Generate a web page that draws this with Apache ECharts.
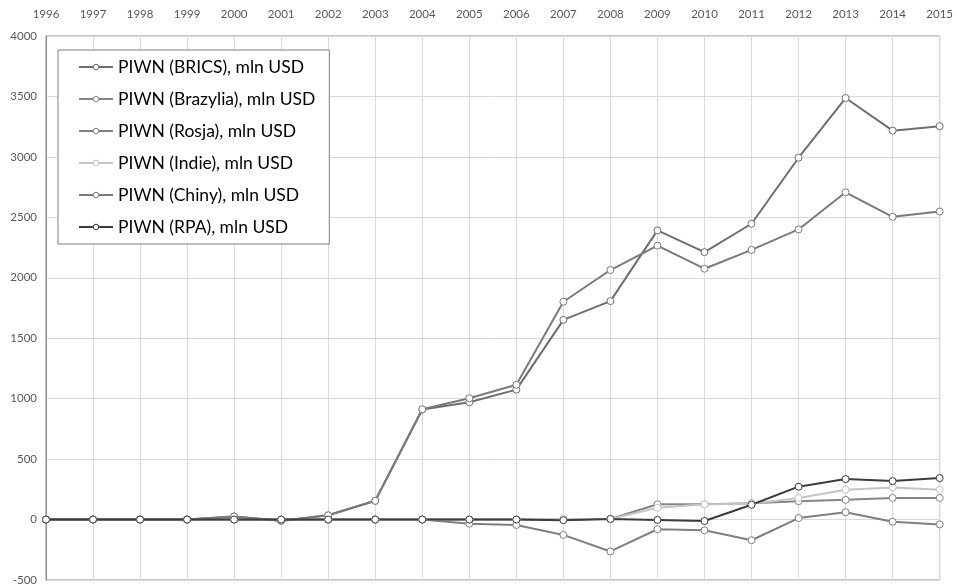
<!DOCTYPE html>
<html>
<head>
<meta charset="utf-8">
<title>PIWN BRICS</title>
<script src="https://cdn.jsdelivr.net/npm/echarts@6/dist/echarts.min.js"></script>
<style>
  html, body { margin: 0; padding: 0; background: #fff; }
  #chart { width: 956px; height: 586px; }
</style>
</head>
<body>
<div id="chart"></div>
<script>
// lata na osi X
const years = ['1996', '1997', '1998', '1999', '2000', '2001', '2002', '2003', '2004', '2005',
  '2006', '2007', '2008', '2009', '2010', '2011', '2012', '2013', '2014', '2015']

// wartości, mln USD
const brics = [0, 0, 0, 0, 25, -10, 35, 155, 910, 970, 1075, 1652, 1807, 2392, 2212, 2447, 2993, 3487, 3217, 3254]
const brazylia = [0, 0, 0, 0, 0, 0, 0, 0, 0, 0, 0, 0, 5, 126, 126, 135, 152, 163, 179, 179]
const rosja = [0, 0, 0, 0, 0, -5, 0, 0, 0, -35, -45, -127, -264, -80, -89, -171, 12, 61, -18, -40]
const indie = [0, 0, 0, 0, 0, 0, 0, 0, 0, 0, 0, 5, 5, 98, 126, 130, 179, 247, 266, 247]
const chiny = [0, 0, 0, 0, 25, -10, 35, 155, 912, 1004, 1115, 1802, 2064, 2266, 2075, 2231, 2400, 2707, 2504, 2548]
const rpa = [0, 0, 0, 0, 0, 0, 0, 0, 0, 0, 0, -5, 5, -3, -12, 122, 272, 335, 318, 343]

const seriesList = [
  { name: 'PIWN (BRICS), mln USD', data: brics, color: '#6e6e6e' },
  { name: 'PIWN (Brazylia), mln USD', data: brazylia, color: '#858585' },
  { name: 'PIWN (Rosja), mln USD', data: rosja, color: '#7f7f7f' },
  { name: 'PIWN (Indie), mln USD', data: indie, color: '#c4c4c4' },
  { name: 'PIWN (Chiny), mln USD', data: chiny, color: '#7a7a7a' },
  { name: 'PIWN (RPA), mln USD', data: rpa, color: '#3c3c3c' },
]

const font = 'Lato, "Open Sans", sans-serif'

let myChart = echarts.init(document.getElementById('chart'))
myChart.setOption({
  animation: false,
  textStyle: { fontFamily: font },
  grid: {
    left: 46,
    right: 13,
    top: 36,
    bottom: 3,
    show: true,
    borderColor: '#8c8c8c',
    borderWidth: 1,
  },
  legend: {
    orient: 'vertical',
    left: 58,
    top: 50,
    padding: [7, 14, 7, 20],
    itemGap: 12,
    itemWidth: 34,
    itemHeight: 7,
    backgroundColor: '#fff',
    borderColor: '#7f7f7f',
    borderWidth: 1,
    borderRadius: 0,
    //białe kółka w legendzie
    itemStyle: { color: '#fff', borderWidth: 1 },
    textStyle: {
      fontFamily: font,
      fontSize: 17.5,
      lineHeight: 20,
      color: '#000',
    },
    data: seriesList.map(s => s.name),
  },
  xAxis: {
    type: 'category',
    position: 'top',
    //bez odstępów po bokach
    boundaryGap: false,
    data: years,
    axisLine: { show: false },
    axisTick: { show: false },
    axisLabel: {
      margin: 16,
      fontSize: 11.5,
      color: '#595959',
      interval: 0,
    },
    splitLine: {
      show: true,
      lineStyle: { color: '#d9d9d9', width: 1 },
    },
  },
  yAxis: {
    type: 'value',
    min: -500,
    max: 4000,
    interval: 500,
    axisLine: { show: true, lineStyle: { color: '#8c8c8c' } },
    axisTick: { show: false },
    axisLabel: {
      margin: 9,
      fontSize: 11.5,
      color: '#595959',
      formatter: v => String(v),
    },
    splitLine: {
      show: true,
      lineStyle: { color: '#d9d9d9', width: 1 },
    },
  },
  series: seriesList.map(s => ({
    name: s.name,
    type: 'line',
    data: s.data,
    symbol: 'circle',
    symbolSize: 7,
    showAllSymbol: true,
    lineStyle: { color: s.color, width: 2 },
    itemStyle: { color: '#fff', borderColor: s.color, borderWidth: 1 },
    emphasis: { disabled: true },
  })),
})
</script>
</body>
</html>
